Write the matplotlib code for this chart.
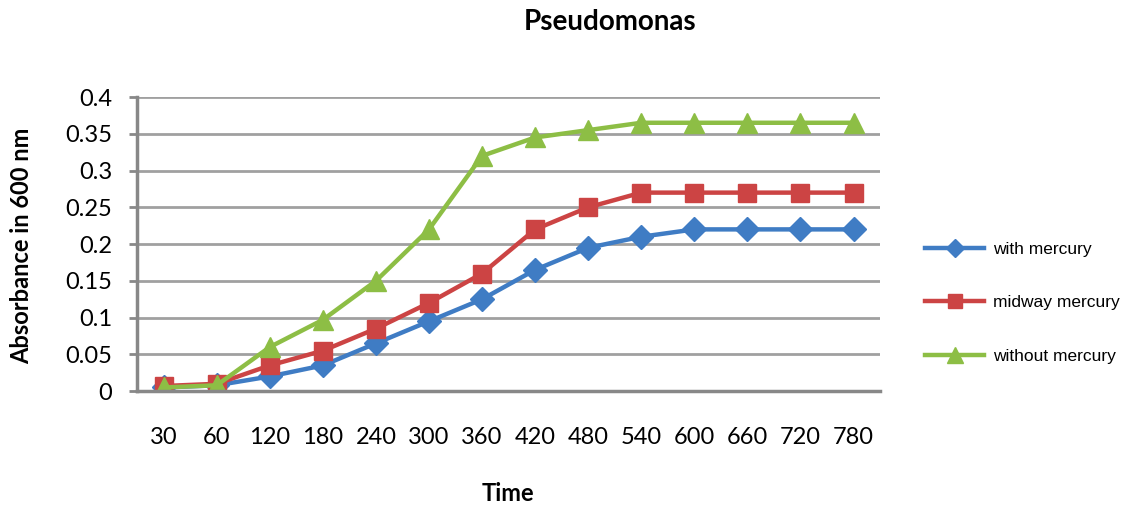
import matplotlib
matplotlib.use("Agg")
import matplotlib.pyplot as plt
from matplotlib.lines import Line2D

times = ["30", "60", "120", "180", "240", "300", "360", "420", "480", "540", "600", "660", "720", "780"]
with_mercury = [0.005, 0.008, 0.02, 0.035, 0.065, 0.095, 0.125, 0.165, 0.195, 0.21, 0.22, 0.22, 0.22, 0.22]
midway_mercury = [0.007, 0.01, 0.035, 0.055, 0.085, 0.12, 0.16, 0.22, 0.25, 0.27, 0.27, 0.27, 0.27, 0.27]
without_mercury = [0.005, 0.008, 0.06, 0.097, 0.15, 0.22, 0.32, 0.345, 0.355, 0.365, 0.365, 0.365, 0.365, 0.365]

plt.rcParams["font.family"] = ["Lato", "DejaVu Sans"]

fig = plt.figure(figsize=(11.24, 5.08), dpi=100)
ax = fig.add_axes([0.122, 0.230, 0.661, 0.579])

x = list(range(len(times)))
series = [
    ("with mercury", with_mercury, "#3F7CC4", "D", 12),
    ("midway mercury", midway_mercury, "#CC4444", "s", 13),
    ("without mercury", without_mercury, "#8DBE45", "^", 14),
]
handles = []
for label, vals, color, marker, ms in series:
    ax.plot(x, vals, color=color, lw=3.2, marker=marker, markersize=ms,
            markeredgecolor=color)
    handles.append(Line2D([], [], color=color, lw=3.2, marker=marker,
                          markersize=ms * 0.8, markeredgecolor=color, label=label))

ax.set_xlim(-0.5, len(times) - 0.5)
ax.set_ylim(0, 0.4)
ax.set_yticks([0, 0.05, 0.1, 0.15, 0.2, 0.25, 0.3, 0.35, 0.4])
ax.set_yticklabels(["0", "0.05", "0.1", "0.15", "0.2", "0.25", "0.3", "0.35", "0.4"])
ax.set_xticks(x)
ax.set_xticklabels(times)
ax.tick_params(axis="y", labelsize=17, length=6, width=2, color="#888888", pad=12)
ax.tick_params(axis="x", labelsize=17, length=0, pad=26)

ax.grid(axis="y", color="#a0a0a0", lw=2)
ax.set_axisbelow(True)
for side in ["top", "right"]:
    ax.spines[side].set_visible(False)
for side in ["left", "bottom"]:
    ax.spines[side].set_color("#888888")
    ax.spines[side].set_linewidth(2.5)

fig.text(22 / 1124, 0.516, "Absorbance in 600 nm", fontsize=17, fontweight="bold",
         rotation=90, ha="center", va="center")
fig.text(0.452, 0.0295, "Time", fontsize=17, fontweight="bold", ha="center", va="center")
fig.text(0.543, 0.957, "Pseudomonas", fontsize=20, fontweight="bold", ha="center", va="center")

leg = ax.legend(handles=handles, loc="center left", bbox_to_anchor=(1.04, 0.30),
                frameon=False, prop={"family": "Liberation Sans", "size": 12.5},
                labelspacing=2.2, handlelength=3.4, handletextpad=0.5)

fig.savefig("out.png", dpi=100)
